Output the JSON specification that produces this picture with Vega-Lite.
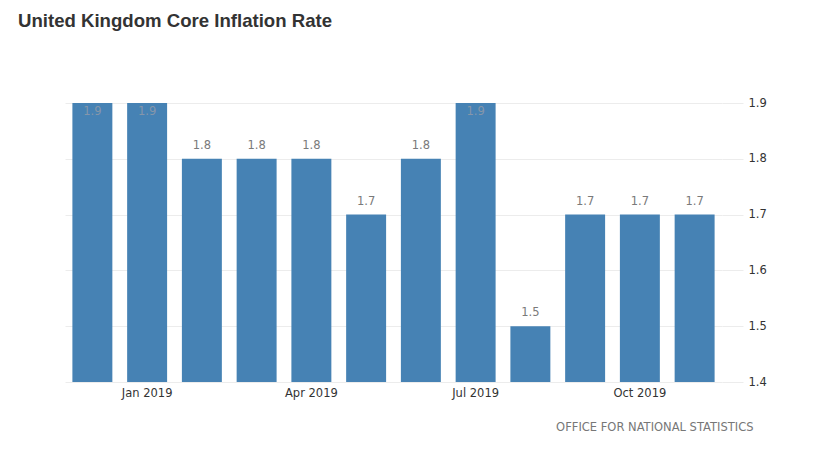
{
  "$schema": "https://vega.github.io/schema/vega-lite/v6.json",
  "autosize": "none",
  "width": 657,
  "height": 279,
  "padding": {"left": 65, "top": 103, "right": 98, "bottom": 75},
  "background": "white",
  "title": {
    "text": "United Kingdom Core Inflation Rate",
    "anchor": "start",
    "frame": "group",
    "font": "Liberation Sans",
    "fontSize": 18.6,
    "fontWeight": "bold",
    "color": "#333333",
    "baseline": "alphabetic",
    "offset": 0,
    "dx": -47,
    "dy": -51
  },
  "config": {
    "view": {"stroke": null},
    "axis": {"labelFont": "DejaVu Sans", "labelFontSize": 11.5, "labelColor": "#333333"}
  },
  "data": {
    "values": [
      {"month": "Dec 2018", "rate": 1.9},
      {"month": "Jan 2019", "rate": 1.9},
      {"month": "Feb 2019", "rate": 1.8},
      {"month": "Mar 2019", "rate": 1.8},
      {"month": "Apr 2019", "rate": 1.8},
      {"month": "May 2019", "rate": 1.7},
      {"month": "Jun 2019", "rate": 1.8},
      {"month": "Jul 2019", "rate": 1.9},
      {"month": "Aug 2019", "rate": 1.5},
      {"month": "Sep 2019", "rate": 1.7},
      {"month": "Oct 2019", "rate": 1.7},
      {"month": "Nov 2019", "rate": 1.7}
    ]
  },
  "encoding": {
    "x": {
      "field": "month",
      "type": "nominal",
      "sort": null,
      "scale": {"paddingInner": 0.27, "paddingOuter": 0.135},
      "axis": {
        "title": "OFFICE FOR NATIONAL STATISTICS",
        "titleFont": "DejaVu Sans",
        "titleFontSize": 11.5,
        "titleFontWeight": "normal",
        "titleColor": "#777777",
        "titleAlign": "right",
        "titleBaseline": "middle",
        "titleX": 688,
        "titleY": 45,
        "labelAngle": 0,
        "labelPadding": 5,
        "ticks": false,
        "domain": false,
        "labelExpr": "indexof(['Jan 2019','Apr 2019','Jul 2019','Oct 2019'], datum.value) >= 0 ? datum.value : ''"
      }
    },
    "y": {
      "field": "rate",
      "type": "quantitative",
      "scale": {"domain": [1.4, 1.9], "zero": false, "nice": false, "clamp": true},
      "axis": {
        "orient": "right",
        "title": null,
        "values": [1.4, 1.5, 1.6, 1.7, 1.8, 1.9],
        "format": ".1f",
        "domain": false,
        "grid": true,
        "gridColor": "#ececec",
        "tickColor": "#ececec",
        "tickSize": 21,
        "labelPadding": 5
      }
    }
  },
  "layer": [
    {
      "mark": {"type": "bar", "color": "#4682b4"},
      "encoding": {"y2": {"datum": 1.4}}
    },
    {
      "transform": [{"filter": "datum.rate < 1.9"}],
      "mark": {"type": "text", "dy": -13, "font": "DejaVu Sans", "fontSize": 11.5, "color": "#7a7a7a", "baseline": "middle"},
      "encoding": {"text": {"field": "rate", "type": "quantitative", "format": ".1f"}}
    },
    {
      "transform": [{"filter": "datum.rate >= 1.9"}],
      "mark": {"type": "text", "dy": 9, "font": "DejaVu Sans", "fontSize": 11.5, "color": "#8596aa", "baseline": "middle"},
      "encoding": {"text": {"field": "rate", "type": "quantitative", "format": ".1f"}}
    }
  ]
}
